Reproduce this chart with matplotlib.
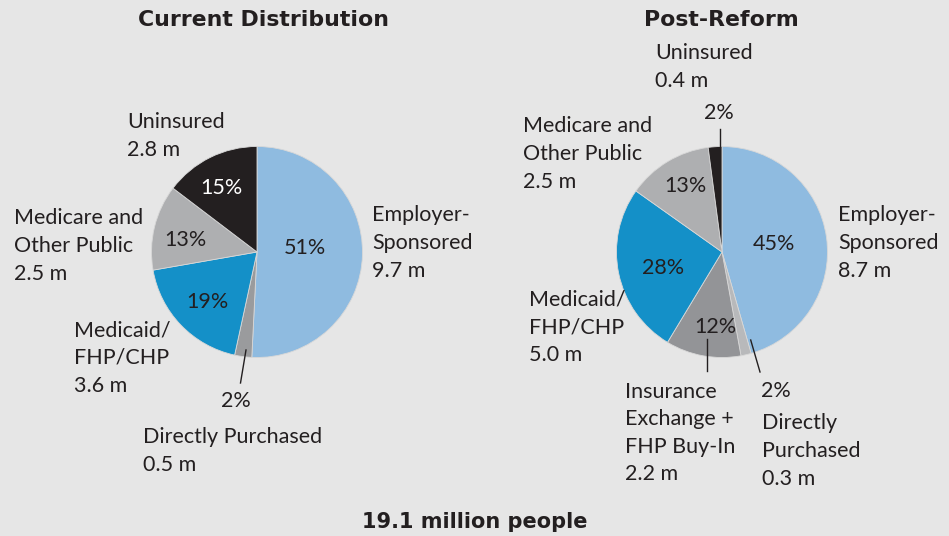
import matplotlib.pyplot as plt

# data (millions of people)
categories = ['Employer-\nSponsored', 'Directly Purchased', 'Insurance\nExchange +\nFHP Buy-In',
              'Medicaid/\nFHP/CHP', 'Medicare and\nOther Public', 'Uninsured']
current_vals = [9.7, 0.5, 0.0, 3.6, 2.5, 2.8]
current_pct = ['51%', '2%', '', '19%', '13%', '15%']
reform_vals = [8.7, 0.3, 2.2, 5.0, 2.5, 0.4]
reform_pct = ['45%', '2%', '12%', '28%', '13%', '2%']
total_people = 19.1

col_cur = ['#8FBBE0', '#9A9B9D', '#939497', '#1490C8', '#AEAFB1', '#231F20']
col_ref = ['#8FBBE0', '#B8B9BB', '#939497', '#1490C8', '#AEAFB1', '#231F20']

BG = '#E6E6E6'
TXT = '#231F20'
FONT = 'Lato'

W, H = 949, 536
fig = plt.figure(figsize=(W / 100, H / 100), dpi=100, facecolor=BG)
ax = fig.add_axes([0, 0, 1, 1])

def Y(py):
    return H - py

def pie(cx, cy, vals, cols):
    keep = [i for i, v in enumerate(vals) if v > 0]
    ax.pie([vals[i] for i in keep], colors=[cols[i] for i in keep],
           center=(cx, Y(cy)), radius=105.5, startangle=90, counterclock=False,
           wedgeprops=dict(edgecolor='#D8D8D8', linewidth=0.6), frame=True)

pie(257, 252, current_vals, col_cur)
pie(722, 252, reform_vals, col_ref)
ax.set_xlim(0, W)
ax.set_ylim(0, H)
ax.set_aspect('equal')
ax.axis('off')

def txt(x, y, s, ha='left', va='center', size=15.5, weight='normal', family=FONT, color=TXT):
    ax.text(x, Y(y), s, ha=ha, va=va, fontsize=size, color=color, family=family,
            fontweight=weight, linespacing=1.47)

def lbl(x, y, i, vals):
    txt(x, y, '%s\n%.1f m' % (categories[i], vals[i]))

# titles
txt(264, 20, 'Current Distribution', ha='center', size=15.8, weight='bold', family='DejaVu Sans')
txt(721, 20, 'Post-Reform', ha='center', size=15.8, weight='bold', family='DejaVu Sans')
txt(475, 522, '%.1f million people' % total_people, ha='center', size=15, weight='bold',
    family='DejaVu Sans')

# left pie labels
lbl(372, 243, 0, current_vals)
txt(143, 451, '%s\n%.1f m' % (categories[1], current_vals[1]))
lbl(74, 358, 3, current_vals)
lbl(14, 246, 4, current_vals)
lbl(127, 136, 5, current_vals)
txt(305, 248, current_pct[0], ha='center')
txt(236, 401, current_pct[1], ha='center')
txt(207, 302, current_pct[3], ha='center')
txt(185, 240, current_pct[4], ha='center')
txt(221, 188, current_pct[5], ha='center', color='white')
ax.plot([246, 240.5], [Y(350), Y(383)], color=TXT, lw=1)

# right pie labels
lbl(838, 243, 0, reform_vals)
txt(762, 451, 'Directly\nPurchased\n%.1f m' % reform_vals[1])
lbl(625, 433, 2, reform_vals)
lbl(529, 327, 3, reform_vals)
lbl(523, 154, 4, reform_vals)
lbl(655, 67, 5, reform_vals)
txt(774, 244, reform_pct[0], ha='center')
txt(776, 391, reform_pct[1], ha='center')
txt(715, 327, reform_pct[2], ha='center')
txt(663, 268, reform_pct[3], ha='center')
txt(685, 186, reform_pct[4], ha='center')
txt(719, 113, reform_pct[5], ha='center')
ax.plot([706.7, 706.7], [Y(339), Y(371)], color=TXT, lw=1)
ax.plot([750.7, 760], [Y(340), Y(372)], color=TXT, lw=1)
ax.plot([720, 720], [Y(129), Y(146)], color=TXT, lw=1)

fig.savefig('out.png', dpi=100, facecolor=BG)
